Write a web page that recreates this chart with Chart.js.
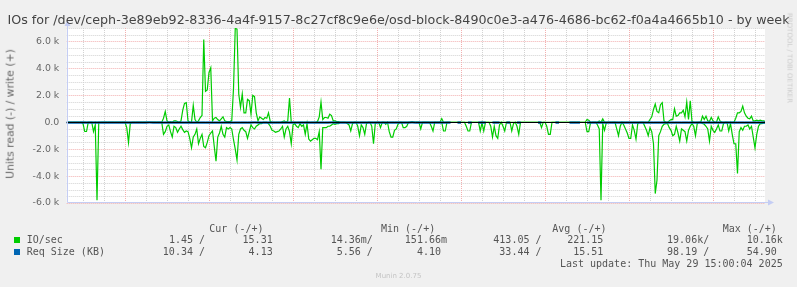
<!DOCTYPE html>
<html>
<head>
<meta charset="utf-8">
<title>IOs by week</title>
<script src="https://cdn.jsdelivr.net/npm/chart.js@4.4.1/dist/chart.umd.min.js"></script>
<style>
  html, body { margin: 0; padding: 0; background: #f0f0f0; }
  #wrap { position: relative; width: 797px; height: 287px; overflow: hidden; background: #f0f0f0;
          font-family: "DejaVu Sans", sans-serif; color: #666; }
  #chart { position: absolute; left: 0; top: 0; width: 797px; height: 287px; }
  .txt { position: absolute; white-space: pre; }
  .mono { font-family: "DejaVu Sans Mono", monospace; font-size: 10px; line-height: 10px; color: #555; }
  .box { position: absolute; width: 6px; height: 6px; }
</style>
</head>
<body>
<div id="wrap">
  <canvas id="chart" width="797" height="287"></canvas>
</div>
<script>
// ---------------- DATA ----------------
const chartTitle = 'IOs for /dev/ceph-3e89eb92-8336-4a4f-9157-8c27cf8c9e6e/osd-block-8490c0e3-a476-4686-bc62-f0a4a4665b10 - by week';
const yAxisTitle = 'Units read (-) / write (+)';
const watermark = 'RRDTOOL / TOBI OETIKER';
const footer = 'Munin 2.0.75';
const lastUpdate = 'Last update: Thu May 29 15:00:04 2025';

// x axis: hours after Wed 21 May 00:00
const X_MIN = 7.34, X_MAX = 206.86;
const dayLabels = ['Wed 21 May', 'Thu 22 May', 'Fri 23 May', 'Sat 24 May', 'Sun 25 May',
                   'Mon 26 May', 'Tue 27 May', 'Wed 28 May', 'Thu 29 May'];
const dayLabelHours = [12, 36, 60, 84, 108, 132, 156, 180, 204];
const yTickValues = [-6000, -4000, -2000, 0, 2000, 4000, 6000];
const Y_MIN = -6000, Y_MAX = 7000;

// IO/sec samples every 30 minutes, first at 07:30 Wed 21 May
const IO_START_HOUR = 7.5, IO_STEP_HOURS = 0.5;
const ioRead = [
  0, 0, 0, 0, 0, 0, 0, 0, 0,
  -100, -690, -690, 0, 0, 0, -690, -200, -5800, 0,
  0, 0, 0, 0, 0, 0, 0, 0, 0, 0, 0, 0, 0, 0,
  // Thu 22
  0, -400, -1500, -100, 0, 0, 0, 0, 0, 0, 0, 0,
  0, 0, 0, 0, 0, 0, 0, 0, 0, 0, -900, -700,
  -300, -200, -700, -1100, -300, -400, -750, -500, -300, -550, -750, -650,
  -700, -1200, -1900, -1100, -900, -500, -1600, -1200, -900, -1800, -1900, -1500,
  // Fri 23
  -1000, -800, -650, -1800, -2900, -1100, -800, -300, -900, -1100, -400, -500,
  -400, -500, -1300, -2000, -2800, -900, -500, -400, -600, -700, -1200, -700,
  -200, -400, -500, -300, -200, -100, -100, 0, 0, 0, -100, -300,
  -600, -650, -750, -700, -650, -500, -300, -1100, -500, -300, -700, -1600,
  // Sat 24
  -200, -100, -300, -400, -100, -300, -200, -900, -100, -1250, -1400, -1300,
  -1200, -1200, -1300, -700, -3500, -400, -400, -400, -300, -300, -200, -100,
  -150, -100, -100, 0, 0, 0, 0, -100, -200, -650, -100, 0,
  0, -300, -1000, -200, -400, -900, -100, 0, 0, -300, -1600, -100,
  // Sun 25
  0, 0, -400, 0, 0, -150, 0, -700, -1100, -1100, -600, -500,
  -150, 0, 0, -400, -400, -300, 0, 0, 0, 0, 0, 0,
  0, -500, 0, 0, 0, 0, 0, -300, -650, 0, 0, 0,
  0, 0, -650, -650, 0, 0, 0, 0, 0, 0, 0, 0,
  // Mon 26
  0, 0, 0, -300, -650, -650, 0, 0, 0, 0, 0, -650,
  -50, -650, 0, 0, 0, -300, -1100, -300, -1000, -1200, -200, 0,
  -300, -650, 0, 0, 0, -650, -100, 0, -300, -900, 0, 0,
  0, 0, 0, 0, 0, 0, 0, 0, 0, 0, -400, 0,
  // Tue 27
  0, -300, -900, -900, 0, 0, 0, 0, 0, 0, 0, 0,
  0, 0, 0, 0, 0, 0, 0, 0, 0, 0, 0, 0,
  -700, -700, -50, 0, 0, 0, -200, -500, -5800, -100, -600, -50,
  0, 0, 0, 0, 0, -500, -1000, -300, 0, -200, -500, -800,
  // Wed 28
  -1200, -1200, -200, -600, -1250, -100, 0, 0, 0, -300, -600, -1000,
  -400, -700, -1600, -5300, -4300, -1000, -700, -300, -150, -100, -100, -400,
  -600, -1000, -900, -300, -800, -1400, -500, -600, -700, -1400, -600, -300,
  -100, -300, -1000, -100, 0, 0, -100, -150, -300, -500, -1400, -300,
  // Thu 29
  -600, -750, -500, -200, -650, -650, -100, 0, 0, -650, -100, -900,
  -1600, -1600, -3800, -700, -400, -600, -300, -300, -200, -500, -300, -1100,
  -1900, -900, -300, -100, -100, -50, -50
];
const ioWrite = [
  0, 0, 0, 0, 0, 0, 0, 0, 0,
  0, 0, 0, 0, 0, 0, 0, 0, 0, 0,
  0, 0, 0, 0, 0, 0, 0, 0, 0, 0, 0, 0, 0, 0,
  // Thu 22
  0, 0, 0, 0, 0, 0, 0, 0, 0, 0, 0, 0,
  0, 0, 0, 0, 0, 0, 0, 0, 0, 0, 300, 800,
  100, 0, 50, 0, 100, 100, 50, 0, 100, 900, 1400, 1450,
  100, 0, 0, 1250, 200, 0, 100, 350, 500, 6150, 2300, 2400,
  // Fri 23
  3700, 4050, 100, 300, 350, 200, 100, 250, 400, 100, 50, 50,
  50, 100, 2500, 7000, 6900, 2100, 1100, 2100, 700, 700, 1700, 1600,
  600, 2000, 1900, 700, 100, 400, 300, 200, 350, 300, 700, 50,
  0, 0, 0, 0, 0, 0, 50, 100, 0, 100, 1800, 0,
  // Sat 24
  0, 0, 0, 0, 0, 0, 0, 0, 0, 0, 0, 0,
  0, 0, 50, 400, 1500, 200, 350, 350, 300, 600, 500, 100,
  100, 50, 50, 0, 0, 0, 0, 0, 0, 0, 0, 0,
  0, 0, 0, 0, 0, 0, 0, 0, 0, 0, 0, 0,
  // Sun 25
  0, 0, 0, 0, 0, 0, 0, 0, 0, 0, 0, 0,
  0, 0, 0, 0, 0, 0, 0, 0, 50, 0, 0, 0,
  0, 0, 0, 0, 0, 0, 0, 0, 0, 0, 0, 0,
  0, 270, 0, 0, 0, 0, 0, 0, 0, 0, 0, 0,
  // Mon 26
  0, 0, 0, 0, 0, 0, 0, 0, 0, 0, 0, 0,
  0, 0, 0, 0, 0, 0, 0, 0, 0, 0, 0, 0,
  0, 0, 0, 0, 0, 0, 0, 0, 0, 0, 0, 0,
  0, 0, 0, 0, 0, 0, 0, 0, 0, 0, 0, 0,
  // Tue 27
  0, 0, 0, 0, 0, 0, 0, 0, 0, 0, 0, 0,
  0, 0, 0, 0, 0, 0, 0, 0, 0, 0, 0, 0,
  200, 150, 0, 0, 0, 0, 0, 100, 0, 250, 0, 0,
  0, 0, 0, 0, 0, 0, 0, 0, 0, 0, 0, 0,
  // Wed 28
  0, 0, 0, 0, 0, 0, 0, 0, 0, 0, 0, 0,
  200, 400, 950, 1350, 800, 700, 1300, 1450, 100, 0, 0, 100,
  200, 200, 1000, 450, 500, 700, 700, 900, 400, 1500, 200, 1600,
  50, 0, 0, 0, 0, 0, 450, 200, 450, 100, 50, 350,
  // Thu 29
  100, 0, 0, 400, 100, 0, 0, 0, 0, 0, 0, 0,
  0, 300, 700, 700, 800, 1200, 700, 450, 300, 250, 450, 100,
  100, 150, 100, 150, 100, 100, 50
];

// Req Size (KB) hourly samples, first at 07:00 Wed 21 May (null = no value)
const REQ_START_HOUR = 7, REQ_STEP_HOURS = 1;
const reqReadKB = [
  -30, -32, -35, -33, -31, -29, -34, -36, -33, -30, -31, -35, -32, -30, -33, -34, -31,
  -33, -30, -31, -34, -36, -32, -30, -29, -33, -35, -34, -31, -32, -36, -38, -35, -33, -31, -34, -37, -35, -32, -30, -33,
  -34, -36, -33, -31, -30, -32, -35, -37, -34, -32, -31, -33, -30, -29, -32, -34, -36, -33, -31, -30, -32, -35, -33, -31,
  -33, -35, -34, -32, -30, -31, -33, -36, -34, -32, -30, -29, -31, -33, -35, -34, -32, -30, -31, -33, -34, -32, -30, -31,
  -32, -34, -33, -31, -30, -32, -35, -33, -31, -30, -29, -31, -33, -34, -32, -30, -31, -33, -35, -34, -32, -30, null, -31,
  -33, null, -34, -32, null, -30, -33, -35, null, -34, -36, -33, null, -31, -30, null, -33, -35, null, null, null, null, -32, -31,
  null, -30, null, -33, -34, null, null, -31, -30, -32, -33, null, -35, -34, -32, -31, -36, -34, -32, -30, -31, -33, -35, -34,
  -33, -32, -34, -36, -35, -33, -31, -30, -32, -34, -36, -35, -33, -31, -32, -34, -33, -35, -36, -34, -32, -31, -33, -34,
  -32, -33, -35, -34, -31, -30, -32, -34, -36, -33, -31, -32, -34, -33, -31, -30
];
const reqWriteKB = [
  15, 14, 16, 15, 17, 15, 14, 16, 15, 15, 14, 16, 15, 17, 15, 14, 16,
  15, 16, 14, 15, 17, 16, 15, 14, 16, 15, 17, 15, 14, 16, 15, 15, 14, 16, 15, 17, 15, 14, 16, 15,
  16, 15, 14, 15, 17, 15, 16, 14, 15, 16, 15, 14, 17, 15, 16, 15, 14, 16, 15, 15, 17, 14, 15, 16,
  15, 14, 16, 15, 15, 17, 15, 14, 16, 15, 14, 16, 15, 15, 17, 15, 14, 16, 15, 16, 14, 15, 17, 15,
  15, 16, 14, 15, 17, 15, 16, 14, 15, 15, 16, 14, 15, 17, 15, 14, 16, 15, 15, 14, 16, 15, null, 15,
  16, null, 15, 14, null, 15, 16, 15, null, 14, 16, 15, null, 15, 17, null, 15, 14, null, null, null, null, 16, 15,
  null, 15, null, 16, 14, null, null, 15, 16, 15, 14, null, 15, 16, 17, 15, 14, 16, 15, 15, 17, 15, 14, 16,
  15, 16, 14, 15, 17, 15, 16, 14, 15, 15, 16, 14, 15, 17, 15, 14, 16, 15, 15, 14, 16, 15, 17, 15,
  15, 14, 16, 15, 17, 15, 16, 14, 15, 15, 16, 14, 15, 17, 15, 16
];

// Legend table
const legendColumns = ['Cur (-/+)', 'Min (-/+)', 'Avg (-/+)', 'Max (-/+)'];
const seriesNames = ['IO/sec', 'Req Size (KB)'];
const ioReadStats = ['1.45', '14.36m', '413.05', '19.06k'];
const ioWriteStats = ['15.31', '151.66m', '221.15', '10.16k'];
const reqReadStats = ['10.34', '5.56', '33.44', '98.19'];
const reqWriteStats = ['4.13', '4.10', '15.51', '54.90'];

// ---------------- STYLE ----------------
const GREEN = '#00cc00', BLUE = '#0066b3';
const GRID = '#d2d2d2', MGRID = '#f2b0b0', AXIS = '#c4cdf4';
const FONT_COLOR = '#666666';

// ---------------- TEXT (HTML) ----------------
const wrap = document.getElementById('wrap');
function addText(txt, style, cls) {
  const d = document.createElement('div');
  d.className = 'txt' + (cls ? ' ' + cls : '');
  d.textContent = txt;
  Object.assign(d.style, style);
  wrap.appendChild(d);
  return d;
}
addText(chartTitle, {left: '0px', width: '797px', top: '13.9px', textAlign: 'center',
  fontSize: '12.7px', lineHeight: '12.7px', color: '#444'});
addText(yAxisTitle, {left: '10.5px', top: '114px', fontSize: '10.8px', lineHeight: '10.8px',
  color: FONT_COLOR, transform: 'translate(-50%,-50%) rotate(-90deg)'});
addText(watermark, {left: '788.5px', top: '58px', fontSize: '7px', lineHeight: '7px',
  color: '#cccccc', transform: 'translate(-50%,-50%) rotate(90deg)'});
addText(footer, {left: '0px', width: '797px', top: '272.6px', textAlign: 'center',
  fontSize: '7px', lineHeight: '7px', color: '#c4c4c4'});

const headerLeft = [209.3, 381, 552.3, 722.7];
legendColumns.forEach((c, i) => addText(c, {left: headerLeft[i] + 'px', top: '223.5px'}, 'mono'));
const rowTops = [235.2, 246.9];
const boxColors = [GREEN, BLUE];
seriesNames.forEach((n, r) => {
  const b = document.createElement('div');
  b.className = 'box';
  Object.assign(b.style, {left: '14px', top: (rowTops[r] + 1.8) + 'px', background: boxColors[r]});
  wrap.appendChild(b);
  addText(n, {left: '26.7px', top: rowTops[r] + 'px'}, 'mono');
});
const readRight = [205, 372.8, 541.5, 709.2];
const writeRight = [278.7, 447, 609.4, 782.8];
const hasSuffix = s => /[a-zA-Z]$/.test(s);
[[ioReadStats, ioWriteStats], [reqReadStats, reqWriteStats]].forEach(([rd, wr], r) => {
  rd.forEach((v, i) => addText(v + (hasSuffix(v) ? '' : ' ') + '/',
    {right: (797 - readRight[i]) + 'px', top: rowTops[r] + 'px'}, 'mono'));
  wr.forEach((v, i) => addText(v + (hasSuffix(v) ? '' : ' '),
    {right: (797 - writeRight[i]) + 'px', top: rowTops[r] + 'px'}, 'mono'));
});
addText(lastUpdate, {right: (797 - 782.7) + 'px', top: '258.5px'}, 'mono');

// ---------------- CHART ----------------
const ioPoints = vals => vals.map((v, i) => ({x: IO_START_HOUR + i * IO_STEP_HOURS, y: v}));
const reqPoints = vals => vals.map((v, i) => ({x: REQ_START_HOUR + i * REQ_STEP_HOURS, y: v}));

const muninPlugin = {
  id: 'munin',
  beforeDraw(chart) {
    const {ctx, chartArea: a} = chart;
    ctx.save();
    ctx.fillStyle = '#ffffff';
    ctx.fillRect(a.left, a.top, a.right - a.left, a.bottom - a.top);
    ctx.restore();
  },
  beforeDatasetsDraw(chart) {
    const {ctx, chartArea: a, scales: {x, y}} = chart;
    ctx.save();
    ctx.lineWidth = 1;
    ctx.setLineDash([1, 1]);
    for (let v = Y_MIN; v <= Y_MAX; v += 500) {
      const py = Math.round(y.getPixelForValue(v)) + 0.5;
      ctx.strokeStyle = (v % 2000 === 0) ? MGRID : GRID;
      ctx.beginPath(); ctx.moveTo(a.left, py); ctx.lineTo(a.right, py); ctx.stroke();
    }
    for (let h = Math.ceil(X_MIN / 6) * 6; h <= X_MAX; h += 6) {
      const px = Math.round(x.getPixelForValue(h)) + 0.5;
      ctx.strokeStyle = (h % 24 === 0) ? MGRID : GRID;
      ctx.beginPath(); ctx.moveTo(px, a.top); ctx.lineTo(px, a.bottom); ctx.stroke();
    }
    ctx.restore();
  },
  afterDatasetsDraw(chart) {
    const {ctx, chartArea: a, scales: {y}} = chart;
    ctx.save();
    ctx.setLineDash([]);
    const y0 = Math.round(y.getPixelForValue(0)) + 0.5;
    ctx.strokeStyle = '#000000';
    ctx.lineWidth = 1;
    ctx.beginPath(); ctx.moveTo(a.left, y0); ctx.lineTo(a.right, y0); ctx.stroke();
    const bx = Math.round(a.left) + 0.5, by = Math.round(a.bottom) - 0.5;
    ctx.strokeStyle = AXIS; ctx.fillStyle = AXIS;
    ctx.beginPath(); ctx.moveTo(bx, by); ctx.lineTo(a.right + 3, by); ctx.stroke();
    ctx.beginPath(); ctx.moveTo(bx, by); ctx.lineTo(bx, a.top - 3); ctx.stroke();
    ctx.beginPath();
    ctx.moveTo(a.right + 9, by); ctx.lineTo(a.right + 3, by - 3); ctx.lineTo(a.right + 3, by + 3); ctx.closePath(); ctx.fill();
    ctx.beginPath();
    ctx.moveTo(bx, a.top - 8); ctx.lineTo(bx - 3, a.top - 2); ctx.lineTo(bx + 3, a.top - 2); ctx.closePath(); ctx.fill();
    ctx.restore();
  }
};

Chart.defaults.font.family = 'DejaVu Sans';
const tickFont = {family: 'DejaVu Sans', size: 9.4};

new Chart(document.getElementById('chart'), {
  type: 'line',
  data: {
    datasets: [
      {label: 'Req Size (KB) read', data: reqPoints(reqReadKB), borderColor: BLUE, borderWidth: 2},
      {label: 'Req Size (KB) write', data: reqPoints(reqWriteKB), borderColor: BLUE, borderWidth: 1},
      {label: 'IO/sec read', data: ioPoints(ioRead), borderColor: GREEN, borderWidth: 1.2},
      {label: 'IO/sec write', data: ioPoints(ioWrite), borderColor: GREEN, borderWidth: 1.2}
    ]
  },
  options: {
    responsive: false,
    animation: false,
    events: [],
    spanGaps: false,
    elements: {
      point: {radius: 0, hoverRadius: 0},
      line: {tension: 0, fill: false, borderCapStyle: 'butt'}
    },
    layout: {padding: {left: 0, right: 32, top: 28, bottom: 84}},
    plugins: {legend: {display: false}, tooltip: {enabled: false}, title: {display: false}},
    scales: {
      x: {
        type: 'linear', min: X_MIN, max: X_MAX,
        grid: {display: false, drawTicks: false},
        border: {display: false},
        afterBuildTicks: s => { s.ticks = dayLabelHours.map(v => ({value: v})); },
        ticks: {
          autoSkip: false, maxRotation: 0, minRotation: 0, padding: 3.3,
          color: FONT_COLOR, font: tickFont,
          callback: (v, i) => dayLabels[i]
        },
        afterFit: s => { s.height = 0; }
      },
      y: {
        type: 'linear', min: Y_MIN, max: Y_MAX,
        grid: {display: false, drawTicks: false},
        border: {display: false},
        afterBuildTicks: s => { s.ticks = yTickValues.map(v => ({value: v})); },
        ticks: {
          autoSkip: false, padding: 7.4, color: FONT_COLOR, font: tickFont,
          callback: v => v === 0 ? '0.0' : (v / 1000).toFixed(1) + ' k'
        },
        afterFit: s => { s.width = 66.7; }
      }
    }
  },
  plugins: [muninPlugin]
});
</script>
</body>
</html>
